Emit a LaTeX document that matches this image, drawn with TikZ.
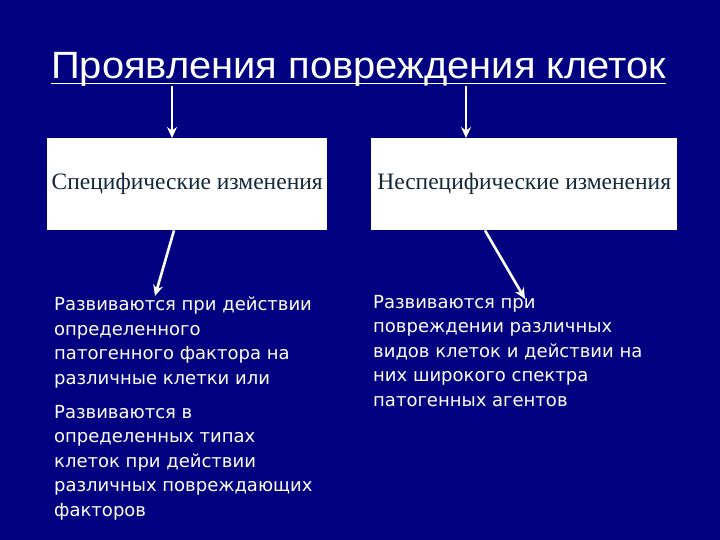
\documentclass[tikz,border=0pt]{standalone}
\usepackage{fontspec}
\setmainfont{DejaVu Sans}
\newfontfamily\titlefont[FakeStretch=1.05]{Liberation Sans}
\newfontfamily\boxfont{Liberation Serif}
\newfontfamily\bodyfont{DejaVu Sans}
\usetikzlibrary{arrows.meta}
\definecolor{bgblue}{HTML}{000080}
\definecolor{boxtext}{HTML}{14283A}
\begin{document}
\begin{tikzpicture}[x=1pt,y=-1pt,
  arr/.style={draw=white, line width=2.6pt, -{Stealth[length=11pt,width=10pt]}},
  boxnode/.style={fill=white, draw=none, minimum width=280pt, minimum height=92pt, anchor=north west, inner sep=0pt, font=\boxfont\fontsize{23.5}{26}\selectfont, text=boxtext},
  bodytext/.style={anchor=base west, inner sep=0pt, align=left, text=white, font=\bodyfont\fontsize{18}{24.5}\selectfont}]
\fill[bgblue] (0,0) rectangle (720,540);
\useasboundingbox (0,0) rectangle (720,540);
\node[anchor=base west, inner sep=0pt, text=white, font=\titlefont\fontsize{38}{44}\selectfont] (title) at (51,79) {Проявления повреждения клеток};
\draw[white, line width=1.8pt] ([yshift=-4.5pt]title.base west) -- ([yshift=-4.5pt]title.base east);
\node[boxnode] (box1) at (47,138) {Специфические изменения};
\node[boxnode, minimum width=306pt] (box2) at (371,138) {Неспецифические изменения};
\node[bodytext] (p1) at (54,384) {Развиваются при действии\\определенного\\патогенного фактора на\\различные клетки или};
\node[bodytext] (p2) at (54,516) {Развиваются в\\определенных типах\\клеток при  действии\\различных повреждающих\\факторов};
\node[bodytext] (p3) at (373,406) {Развиваются при\\повреждении различных\\видов клеток и действии на\\них широкого  спектра\\патогенных агентов};
\coordinate (s1) at (172,86);
\coordinate (s2) at (466,86);
\coordinate (e3) at (155,296);
\coordinate (e4) at (525,299);
\draw[arr] (s1) -- (s1 |- box1.north);
\draw[arr] (s2) -- (s2 |- box2.north);
\draw[arr] (box1.south -| 174,0) -- (e3);
\draw[arr] (box2.south -| 485,0) -- (e4);
\end{tikzpicture}
\end{document}
